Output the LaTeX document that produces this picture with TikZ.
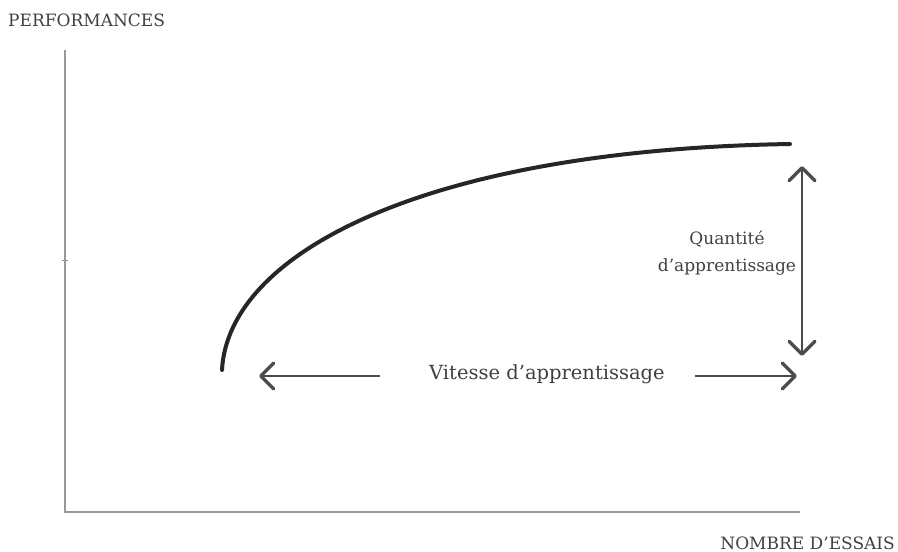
\documentclass[tikz,border=0pt]{standalone}
\usepackage{fontspec}
\setmainfont{DejaVu Serif}
\usetikzlibrary{arrows.meta}
\tikzset{
  pointe/.tip={Straight Barb[length=13pt,width=26pt,line width=3.5pt,round]},
  axe/.style={draw=black!40, line width=2pt},
  courbe/.style={draw=black!85, line width=4pt, line cap=round},
  fleche/.style={draw=black!70, line width=1.5pt},
  texte/.style={text=black!75, inner sep=0pt, font=\fontsize{17}{20}\selectfont}
}
\begin{document}
\begin{tikzpicture}[x=1pt,y=-1pt]
  \useasboundingbox (0,0) rectangle (898,552);

  % axes
  \coordinate (O) at (65,512);
  \coordinate (haut) at (65,50);
  \coordinate (droite) at (800,512);
  \draw[axe] (haut) -- (O) -- (droite);
  \draw[black!40, line width=1pt] (62,260) -- (68,260);

  \node[texte, anchor=west] (perf) at (8,20) {PERFORMANCES};
  \node[texte, anchor=east] (essais) at (895,543) {NOMBRE D'ESSAIS};

  % courbe
  \coordinate (debut) at (222,370);
  \coordinate (fin) at (790,144);
  \draw[courbe] (debut) .. controls (228,255) and (420,150) .. (fin);

  % vitesse
  \node[texte, font=\fontsize{19.5}{22}\selectfont] (vitesse) at (547,374) {Vitesse d'apprentissage};
  \coordinate (vg) at (380,376);
  \coordinate (vgb) at (259,376);
  \coordinate (vd) at (695,376);
  \coordinate (vdb) at (797,376);
  \draw[fleche, -pointe] (vg) -- (vgb);
  \draw[fleche, -pointe] (vd) -- (vdb);

  % quantite
  \node[texte, align=center, font=\fontsize{17}{27}\selectfont] (quantite) at (727,253)
    {Quantit\'e\\d'apprentissage};
  \coordinate (qh) at (802,166);
  \coordinate (qb) at (802,356);
  \draw[fleche, pointe-pointe] (qh) -- (qb);
\end{tikzpicture}
\end{document}
